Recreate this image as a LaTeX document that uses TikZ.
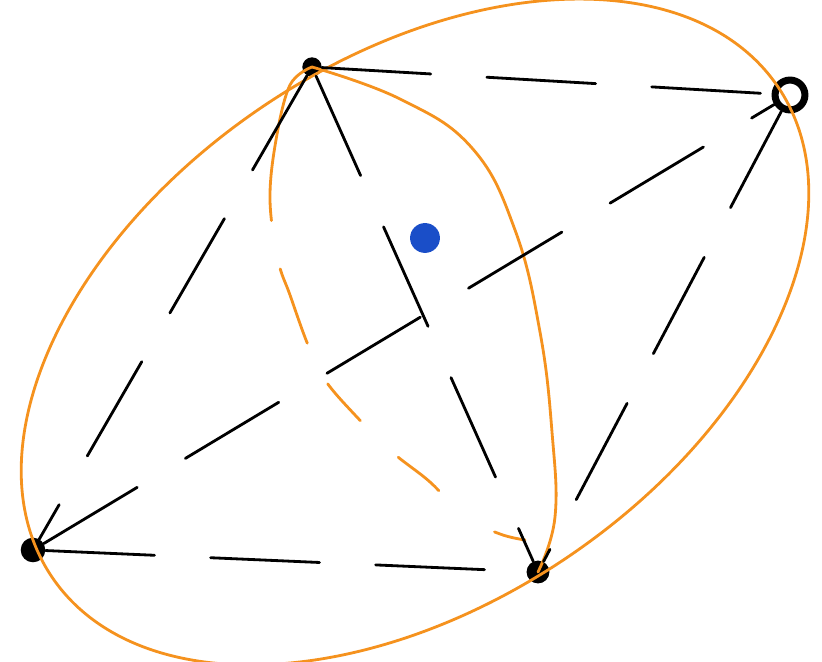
\documentclass[tikz,border=0pt]{standalone}
\usepackage{tikz}
\usetikzlibrary{calc}
\definecolor{sketchorange}{RGB}{245,146,30}
\definecolor{sketchblue}{RGB}{26,78,200}

\begin{document}
\begin{tikzpicture}[
  x=0.02cm,y=0.02cm,
  pt/.style={circle,fill=black,inner sep=0pt,minimum size=#1},
  ringpt/.style={circle,draw=black,line width=4pt,fill=white,inner sep=0pt,minimum size=17pt},
  edge/.style={black,line width=1.6pt,line cap=round,dash pattern=on 62pt off 32pt},
  hull/.style={sketchorange,line width=1.6pt},
  backarc/.style={sketchorange,line width=1.6pt,line cap=round,dash pattern=on 95pt off 28pt on 45pt off 26pt on 28pt off 30pt on 30pt off 40pt},
]
\useasboundingbox (0,0) rectangle (822,662);

\node[pt=11pt] (a) at (312,595) {};
\node[ringpt] (b) at (790,567) {};
\node[pt=14pt] (c) at (33,112) {};
\node[pt=13pt] (d) at (538,90) {};
\node[circle,fill=sketchblue,inner sep=0pt,minimum size=17pt] (p) at (425,424) {};

\draw[hull,rotate around={34:(415,330)}] (415,330) ellipse (438 and 272);
\draw[hull,line cap=round] plot[smooth,tension=0.7] coordinates {(a.center) (400,563) (472,514) (515,432) (540,330) (552,230) (555,145) (d.center)};
\draw[backarc] plot[smooth,tension=0.6] coordinates {(a.center) (290,577) (276,522) (270,462) (278,402) (290,367) (308,317) (325,282) (355,247) (392,210) (430,180) (465,145) (500,128) (525,122)};

\draw[edge] (a) -- (b);
\draw[edge] (a) -- (c);
\draw[edge] (a) -- (d);
\draw[edge] (c) -- (b);
\draw[edge] (b) -- (d);
\draw[edge] (c) -- (d);
\end{tikzpicture}
\end{document}
